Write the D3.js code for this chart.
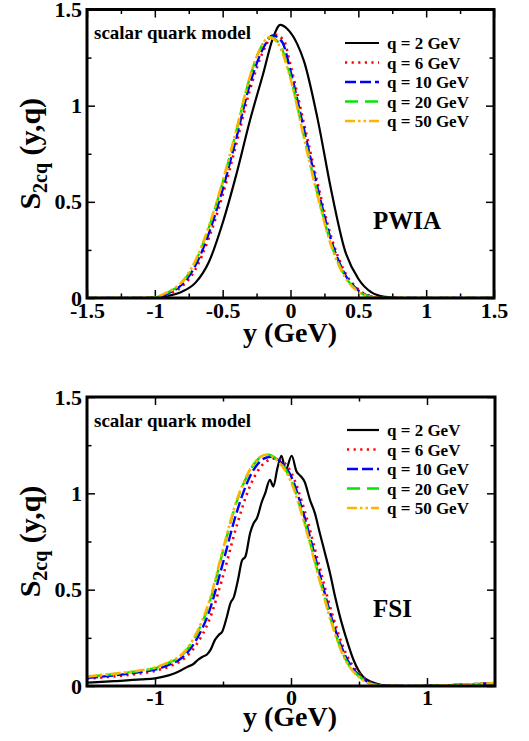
<!DOCTYPE html>
<html>
<head>
<meta charset="utf-8">
<script src="https://cdn.jsdelivr.net/npm/d3@7"></script>
<style>
  body { margin: 0; background: #fff; }
  svg { display: block; }
  text { font-family: 'Liberation Serif', 'Times New Roman', serif; font-weight: bold; }
</style>
</head>
<body>
<div id="chart"></div>
<script>
// series values: [y (GeV), S2cq]
const legendLabels = ['q = 2 GeV', 'q = 6 GeV', 'q = 10 GeV', 'q = 20 GeV', 'q = 50 GeV']

const pwiaQ2 = [[-1.5, 0], [-1.1, 0], [-1.0, 0.003], [-0.9, 0.012], [-0.8, 0.033], [-0.7, 0.08], [-0.6, 0.19], [-0.5, 0.39], [-0.4, 0.64], [-0.3, 0.92], [-0.2, 1.17], [-0.13, 1.35], [-0.075, 1.42], [-0.025, 1.40], [0.05, 1.32], [0.1, 1.23], [0.2, 0.93], [0.3, 0.56], [0.4, 0.25], [0.5, 0.10], [0.6, 0.028], [0.7, 0.006], [0.8, 0], [1.5, 0]]
const pwiaQ6 = [[-1.5, 0], [-1.1, 0], [-1.0, 0.002], [-0.9, 0.02], [-0.8, 0.06], [-0.7, 0.15], [-0.6, 0.315], [-0.5, 0.535], [-0.4, 0.80], [-0.3, 1.08], [-0.2, 1.285], [-0.12, 1.37], [-0.05, 1.34], [0, 1.21], [0.1, 0.905], [0.2, 0.595], [0.3, 0.318], [0.4, 0.135], [0.5, 0.045], [0.6, 0.008], [0.7, 0], [1.5, 0]]
const pwiaQ10 = [[-1.5, 0], [-1.1, 0], [-1.0, 0.002], [-0.9, 0.025], [-0.8, 0.07], [-0.7, 0.17], [-0.6, 0.34], [-0.5, 0.565], [-0.4, 0.83], [-0.3, 1.11], [-0.2, 1.30], [-0.13, 1.365], [-0.06, 1.33], [0, 1.18], [0.1, 0.875], [0.2, 0.57], [0.3, 0.30], [0.4, 0.125], [0.5, 0.04], [0.6, 0.007], [0.7, 0], [1.5, 0]]
const pwiaQ20 = [[-1.5, 0], [-1.1, 0], [-1.0, 0.003], [-0.9, 0.03], [-0.8, 0.08], [-0.7, 0.19], [-0.6, 0.37], [-0.5, 0.60], [-0.4, 0.865], [-0.3, 1.145], [-0.22, 1.30], [-0.15, 1.356], [-0.08, 1.32], [0, 1.15], [0.1, 0.84], [0.2, 0.54], [0.3, 0.28], [0.4, 0.115], [0.5, 0.035], [0.6, 0.005], [0.7, 0], [1.5, 0]]
const pwiaQ50 = [[-1.5, 0], [-1.1, 0], [-1.0, 0.004], [-0.9, 0.033], [-0.8, 0.084], [-0.7, 0.196], [-0.6, 0.376], [-0.5, 0.607], [-0.4, 0.872], [-0.3, 1.15], [-0.22, 1.302], [-0.16, 1.355], [-0.09, 1.32], [0, 1.14], [0.1, 0.83], [0.2, 0.53], [0.3, 0.272], [0.4, 0.11], [0.5, 0.032], [0.6, 0.004], [0.7, 0], [1.5, 0]]

const fsiQ2 = [[-1.5, 0.017], [-1.3, 0.025], [-1.1, 0.034], [-1.0, 0.04], [-0.9, 0.055], [-0.85, 0.068], [-0.8, 0.085], [-0.76, 0.10], [-0.72, 0.113], [-0.68, 0.138], [-0.65, 0.152], [-0.62, 0.162], [-0.59, 0.19], [-0.56, 0.238], [-0.53, 0.266], [-0.505, 0.283], [-0.475, 0.35], [-0.445, 0.43], [-0.42, 0.462], [-0.39, 0.55], [-0.36, 0.652], [-0.335, 0.672], [-0.3, 0.795], [-0.275, 0.845], [-0.25, 0.872], [-0.215, 0.955], [-0.19, 1.0], [-0.155, 1.07], [-0.13, 1.035], [-0.1, 1.13], [-0.07, 1.195], [-0.04, 1.12], [0.005, 1.195], [0.04, 1.115], [0.07, 1.09], [0.1, 1.06], [0.14, 0.965], [0.176, 0.896], [0.213, 0.79], [0.25, 0.689], [0.287, 0.585], [0.324, 0.464], [0.36, 0.36], [0.41, 0.239], [0.46, 0.135], [0.53, 0.048], [0.63, 0.012], [0.7, 0.002], [0.9, 0], [1.2, 0.005], [1.5, 0.014]]
const fsiQ6 = [[-1.5, 0.038], [-1.3, 0.05], [-1.1, 0.066], [-1.0, 0.078], [-0.9, 0.10], [-0.8, 0.135], [-0.7, 0.21], [-0.6, 0.345], [-0.5, 0.57], [-0.4, 0.83], [-0.3, 1.04], [-0.2, 1.155], [-0.12, 1.18], [-0.06, 1.165], [0, 1.11], [0.1, 0.91], [0.2, 0.645], [0.3, 0.38], [0.4, 0.175], [0.5, 0.065], [0.6, 0.016], [0.7, 0.002], [0.9, 0], [1.2, 0.005], [1.5, 0.015]]
const fsiQ10 = [[-1.5, 0.042], [-1.3, 0.055], [-1.1, 0.073], [-1.0, 0.085], [-0.9, 0.11], [-0.8, 0.148], [-0.7, 0.235], [-0.6, 0.39], [-0.5, 0.64], [-0.4, 0.9], [-0.3, 1.09], [-0.2, 1.18], [-0.15, 1.19], [-0.08, 1.165], [0, 1.09], [0.1, 0.875], [0.2, 0.61], [0.3, 0.35], [0.4, 0.155], [0.5, 0.055], [0.6, 0.012], [0.7, 0], [0.9, 0], [1.2, 0.005], [1.5, 0.015]]
const fsiQ20 = [[-1.5, 0.048], [-1.3, 0.062], [-1.1, 0.08], [-1.0, 0.093], [-0.9, 0.12], [-0.8, 0.16], [-0.7, 0.26], [-0.6, 0.43], [-0.5, 0.70], [-0.4, 0.955], [-0.3, 1.12], [-0.22, 1.19], [-0.17, 1.2], [-0.1, 1.175], [0, 1.07], [0.1, 0.85], [0.2, 0.585], [0.3, 0.33], [0.4, 0.14], [0.5, 0.05], [0.6, 0.01], [0.7, 0], [0.9, 0], [1.2, 0.005], [1.5, 0.015]]
const fsiQ50 = [[-1.5, 0.05], [-1.3, 0.064], [-1.1, 0.082], [-1.0, 0.096], [-0.9, 0.124], [-0.8, 0.166], [-0.7, 0.268], [-0.6, 0.442], [-0.5, 0.71], [-0.4, 0.962], [-0.3, 1.125], [-0.22, 1.192], [-0.18, 1.2], [-0.1, 1.17], [0, 1.06], [0.1, 0.84], [0.2, 0.575], [0.3, 0.322], [0.4, 0.135], [0.5, 0.046], [0.6, 0.008], [0.7, 0], [0.9, 0], [1.2, 0.005], [1.5, 0.016]]

const pwiaSeries = [pwiaQ2, pwiaQ6, pwiaQ10, pwiaQ20, pwiaQ50]
const fsiSeries = [fsiQ2, fsiQ6, fsiQ10, fsiQ20, fsiQ50]

const lineStyles = [
  { color: '#000000', dash: null, width: 2.2 },
  { color: '#ff0000', dash: '2.2,4.4', width: 2.6 },
  { color: '#0000ff', dash: '11,4', width: 2.4 },
  { color: '#00e600', dash: '13,7', width: 2.4 },
  { color: '#ffb300', dash: '10,3,2.5,3,2.5,3', width: 2.6 }
]

const svg = d3.select('#chart')
  .append('svg')
  .attr('width', 529)
  .attr('height', 741)

/**
 * Draws one framed panel with its curves, axes and labels.
 */
function drawPanel (opts) {
  const x = d3.scaleLinear().domain([-1.5, 1.5]).range([opts.left, opts.right])
  const y = d3.scaleLinear().domain([0, 1.5]).range([opts.bottom, opts.top])
  const g = svg.append('g')
  const fmt = d => String(d)

  const clipId = 'clip-' + opts.name
  g.append('clipPath').attr('id', clipId)
    .append('rect')
    .attr('x', opts.left).attr('y', opts.top)
    .attr('width', opts.right - opts.left).attr('height', opts.bottom - opts.top)

  // minor ticks on all four sides
  const minor = (axis, tr) => g.append('g')
    .attr('transform', tr)
    .call(axis.tickSize(-4.5).tickFormat(''))
    .call(s => s.select('.domain').remove())
    .call(s => s.selectAll('line').attr('stroke-width', 1.5))

  minor(d3.axisBottom(x).tickValues(opts.xMinor), `translate(0,${opts.bottom})`)
  minor(d3.axisTop(x).tickValues(opts.xMinor), `translate(0,${opts.top})`)
  minor(d3.axisLeft(y).tickValues(opts.yMinor), `translate(${opts.left},0)`)
  minor(d3.axisRight(y).tickValues(opts.yMinor), `translate(${opts.right},0)`)

  const major = (axis, tr, labels, pad) => g.append('g')
    .attr('class', 'axis')
    .attr('transform', tr)
    .call(axis.tickSize(-8).tickPadding(pad).tickFormat(labels ? fmt : ''))
    .call(s => s.select('.domain').remove())
    .call(s => s.selectAll('line').attr('stroke-width', 1.5))
    .call(s => s.selectAll('text')
      .attr('fill', '#000')
      .style('font-family', "'Liberation Serif', serif")
      .style('font-weight', 'bold')
      .style('font-size', '22px'))

  major(d3.axisBottom(x).tickValues(opts.xTicks), `translate(0,${opts.bottom})`, true, opts.xPad)
  major(d3.axisTop(x).tickValues(opts.xTicks), `translate(0,${opts.top})`, false, 0)
  major(d3.axisLeft(y).tickValues(opts.yTicks), `translate(${opts.left},0)`, true, 5)
  major(d3.axisRight(y).tickValues(opts.yTicks), `translate(${opts.right},0)`, false, 0)

  // curves
  const line = d3.line()
    .x(d => x(d[0]))
    .y(d => y(d[1]))
    .curve(d3.curveMonotoneX)

  g.append('g')
    .attr('clip-path', `url(#${clipId})`)
    .selectAll('path')
    .data(opts.series)
    .join('path')
    .attr('d', line)
    .attr('fill', 'none')
    .attr('stroke', (d, i) => lineStyles[i].color)
    .attr('stroke-width', (d, i) => lineStyles[i].width)
    .attr('stroke-dasharray', (d, i) => lineStyles[i].dash)

  // frame
  g.append('rect')
    .attr('x', opts.left).attr('y', opts.top)
    .attr('width', opts.right - opts.left).attr('height', opts.bottom - opts.top)
    .attr('fill', 'none')
    .attr('stroke', '#000')
    .attr('stroke-width', 3)

  // legend
  const leg = g.append('g')
  legendLabels.forEach((label, i) => {
    const by = opts.legendTop + i * 19.5
    leg.append('line')
      .attr('x1', opts.legendLineX[0]).attr('x2', opts.legendLineX[1])
      .attr('y1', by - 6).attr('y2', by - 6)
      .attr('stroke', lineStyles[i].color)
      .attr('stroke-width', lineStyles[i].width)
      .attr('stroke-dasharray', lineStyles[i].dash)
    leg.append('text')
      .attr('x', 387).attr('y', by)
      .style('font-size', '17px')
      .text(label)
  })

  g.append('text')
    .attr('x', 94).attr('y', opts.modelY)
    .style('font-size', '19px')
    .text('scalar quark model')

  g.append('text')
    .attr('x', 373).attr('y', opts.tagY)
    .style('font-size', '25px')
    .text(opts.tag)

  // axis titles
  g.append('text')
    .attr('x', 290).attr('y', opts.xTitleY)
    .attr('text-anchor', 'middle')
    .style('font-size', '28px')
    .text('y (GeV)')

  const yt = g.append('text')
    .attr('text-anchor', 'middle')
    .attr('transform', `translate(40,${(opts.top + opts.bottom) / 2}) rotate(-90)`)
    .style('font-size', '30px')
  yt.append('tspan').text('S')
  yt.append('tspan').attr('dy', 7).style('font-size', '20px').text('2cq')
  yt.append('tspan').attr('dy', -7).text(' (y,q)')
}

drawPanel({
  name: 'pwia',
  left: 87, right: 494, top: 9.5, bottom: 298,
  xTicks: [-1.5, -1, -0.5, 0, 0.5, 1, 1.5],
  xMinor: [-1.25, -0.75, -0.25, 0.25, 0.75, 1.25],
  yTicks: [0, 0.5, 1, 1.5],
  yMinor: [0.25, 0.75, 1.25],
  xPad: 4,
  series: pwiaSeries,
  legendTop: 49,
  legendLineX: [345, 379],
  modelY: 39,
  tag: 'PWIA',
  tagY: 229,
  xTitleY: 342
})

drawPanel({
  name: 'fsi',
  left: 87, right: 495, top: 397, bottom: 686,
  xTicks: [-1, 0, 1],
  xMinor: [-0.5, 0.5],
  yTicks: [0, 0.5, 1, 1.5],
  yMinor: [0.25, 0.75, 1.25],
  xPad: 3,
  series: fsiSeries,
  legendTop: 436,
  legendLineX: [347, 379],
  modelY: 427,
  tag: 'FSI',
  tagY: 617,
  xTitleY: 726
})
</script>
</body>
</html>
